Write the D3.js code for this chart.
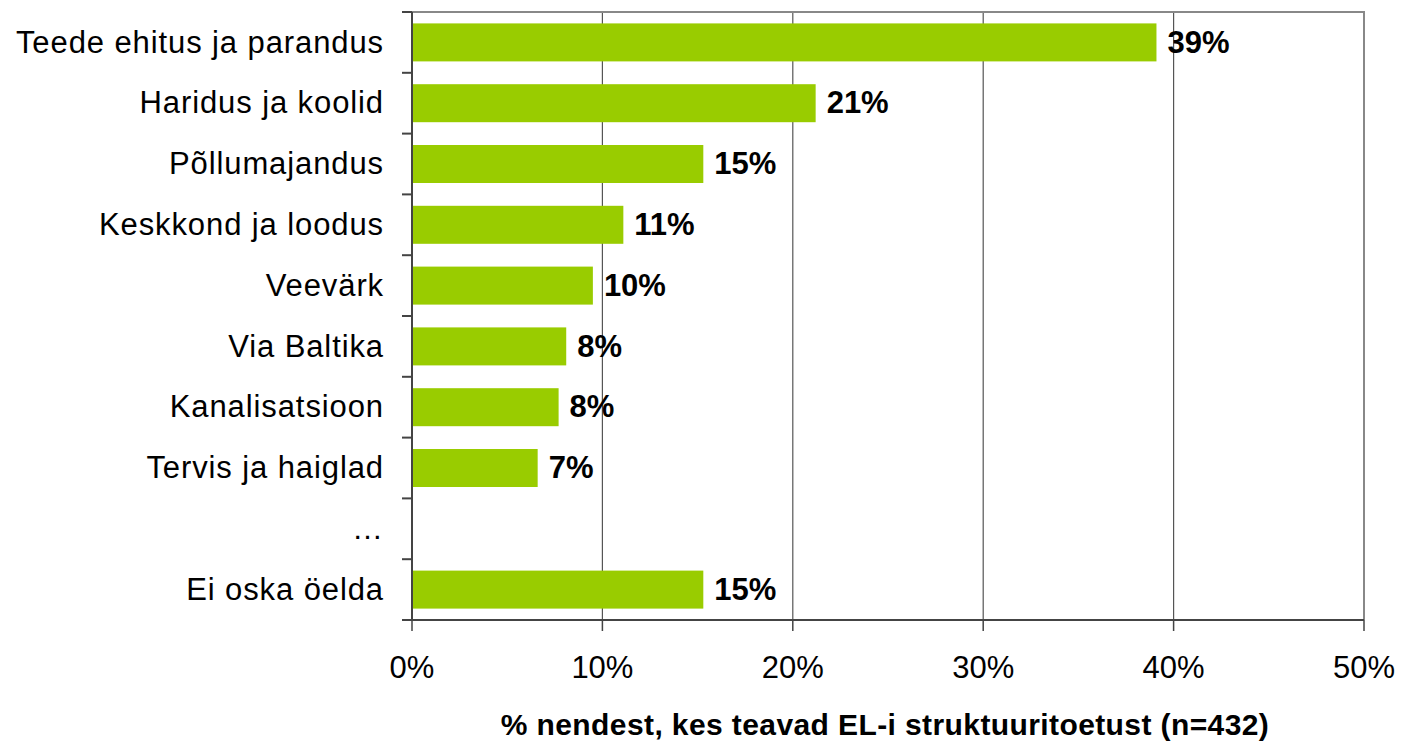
<!DOCTYPE html>
<html>
<head>
<meta charset="utf-8">
<script src="https://cdn.jsdelivr.net/npm/d3@7.9.0/dist/d3.min.js"></script>
<style>
  html, body { margin: 0; padding: 0; background: #fff; }
  svg { display: block; font-family: "Liberation Sans", Arial, sans-serif; }
</style>
</head>
<body>
<svg id="chart" width="1401" height="741"></svg>
<script>
// data
const categories = ['Teede ehitus ja parandus', 'Haridus ja koolid', 'Põllumajandus', 'Keskkond ja loodus',
  'Veevärk', 'Via Baltika', 'Kanalisatsioon', 'Tervis ja haiglad', '…', 'Ei oska öelda'];
const values = [39.1, 21.2, 15.3, 11.1, 9.5, 8.1, 7.7, 6.6, null, 15.3];
const valueLabels = ['39%', '21%', '15%', '11%', '10%', '8%', '8%', '7%', '', '15%'];
const xTicks = [0, 10, 20, 30, 40, 50];
const axisTitle = '% nendest, kes teavad EL-i struktuuritoetust (n=432)';

const svg = d3.select('#chart');
const plotLeft = 412, plotRight = 1364, plotTop = 12, plotBottom = 620;

const x = d3.scaleLinear().domain([0, 50]).range([plotLeft, plotRight]);
const y = d3.scaleBand().domain(categories).range([plotTop, plotBottom])
  .paddingInner(0.375).paddingOuter(0.1875);

// vertical gridlines
svg.append('g').selectAll('line')
  .data(xTicks.slice(1, -1))
  .join('line')
  .attr('x1', d => x(d)).attr('x2', d => x(d))
  .attr('y1', plotTop).attr('y2', plotBottom)
  .attr('stroke', '#555').attr('stroke-width', 1.2);

// frame top and right
svg.append('path')
  .attr('d', `M${plotLeft},${plotTop}H${plotRight}V${plotBottom}`)
  .attr('fill', 'none').attr('stroke', '#888').attr('stroke-width', 2);

// bars
const rows = categories.map((c, i) => ({ cat: c, v: values[i], label: valueLabels[i] }));
svg.append('g').selectAll('rect')
  .data(rows.filter(d => d.v != null))
  .join('rect')
  .attr('x', x(0))
  .attr('y', d => y(d.cat))
  .attr('width', d => x(d.v) - x(0))
  .attr('height', y.bandwidth())
  .attr('fill', '#99cc00');

// value labels
svg.append('g').selectAll('text')
  .data(rows.filter(d => d.v != null))
  .join('text')
  .attr('x', d => x(d.v) + 11)
  .attr('y', d => y(d.cat) + y.bandwidth() / 2)
  .attr('dy', '0.33em')
  .attr('font-size', 31)
  .attr('font-weight', 'bold')
  .attr('fill', '#000')
  .text(d => d.label);

// y axis: line, ticks at band boundaries, labels
const step = y.step();
const bounds = d3.range(categories.length + 1).map(i => plotTop + i * step);
const yAxis = svg.append('g');
yAxis.selectAll('line.tick')
  .data(bounds)
  .join('line')
  .attr('class', 'tick')
  .attr('x1', plotLeft - 10).attr('x2', plotLeft)
  .attr('y1', d => d).attr('y2', d => d)
  .attr('stroke', '#444').attr('stroke-width', 2);
yAxis.append('line')
  .attr('x1', plotLeft).attr('x2', plotLeft).attr('y1', plotTop).attr('y2', plotBottom)
  .attr('stroke', '#444').attr('stroke-width', 2);
yAxis.selectAll('text')
  .data(categories)
  .join('text')
  .attr('x', plotLeft - 28)
  .attr('y', d => y(d) + y.bandwidth() / 2)
  .attr('dy', '0.33em')
  .attr('text-anchor', 'end')
  .attr('font-size', 31)
  .attr('letter-spacing', 0.9)
  .attr('fill', '#000')
  .text(d => d);

// x axis
const xAxis = svg.append('g');
xAxis.append('line')
  .attr('x1', plotLeft - 10).attr('x2', plotRight).attr('y1', plotBottom).attr('y2', plotBottom)
  .attr('stroke', '#444').attr('stroke-width', 2);
xAxis.selectAll('line.tick')
  .data(xTicks)
  .join('line')
  .attr('class', 'tick')
  .attr('x1', d => x(d)).attr('x2', d => x(d))
  .attr('y1', plotBottom).attr('y2', plotBottom + 11)
  .attr('stroke', '#444').attr('stroke-width', 1.5);
xAxis.selectAll('text')
  .data(xTicks)
  .join('text')
  .attr('x', d => x(d))
  .attr('y', 678)
  .attr('text-anchor', 'middle')
  .attr('font-size', 31)
  .attr('fill', '#000')
  .text(d => d + '%');

svg.append('text')
  .attr('x', (502 + 1268) / 2)
  .attr('y', 735)
  .attr('text-anchor', 'middle')
  .attr('font-size', 30)
  .attr('font-weight', 'bold')
  .attr('letter-spacing', 0.4)
  .attr('fill', '#000')
  .text(axisTitle);
</script>
</body>
</html>
